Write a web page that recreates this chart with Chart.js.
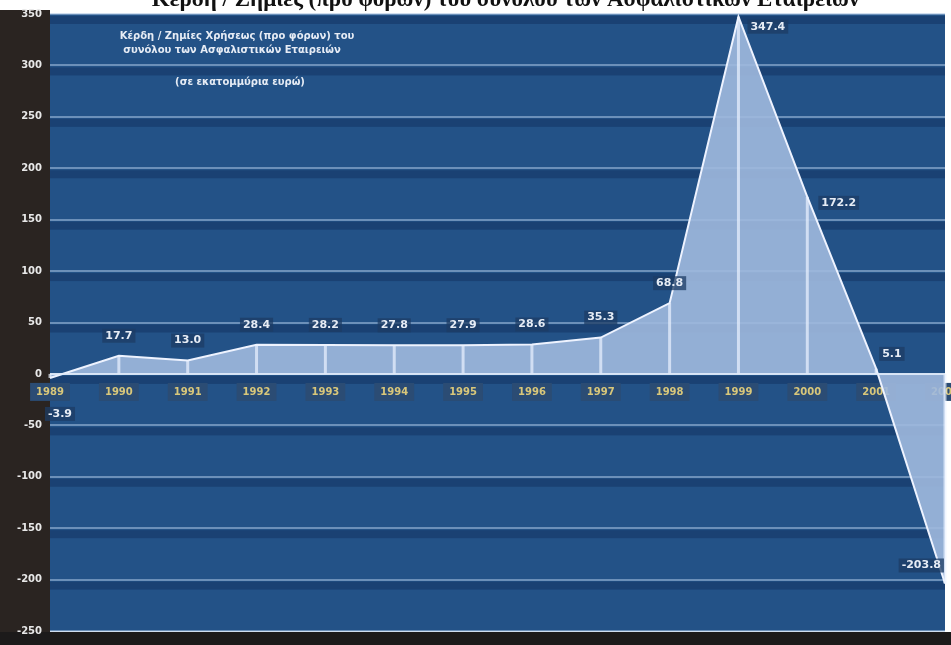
<!DOCTYPE html>
<html>
<head>
<meta charset="utf-8">
<script src="https://cdn.jsdelivr.net/npm/chart.js@4.4.1/dist/chart.umd.min.js"></script>
<style>
  html, body { margin: 0; padding: 0; background: #ffffff; }
  #wrap { width: 951px; height: 645px; position: relative; }
</style>
</head>
<body>
<div id="wrap"><canvas id="profits"></canvas></div>
<script>
// Κέρδη / ζημίες προ φόρων ανά έτος
var years = ['1989', '1990', '1991', '1992', '1993', '1994', '1995', '1996', '1997', '1998', '1999', '2000', '2001', '2002'];
var profits = [-3.9, 17.7, 13.0, 28.4, 28.2, 27.8, 27.9, 28.6, 35.3, 68.8, 347.4, 172.2, 5.1, -203.8];
var yTicks = [-250, -200, -150, -100, -50, 0, 50, 100, 150, 200, 250, 300, 350];

var titleText = 'Κέρδη / Ζημίες (προ φόρων) του συνόλου των Ασφαλιστικών Εταιρειών';
var noteLines = ['Κέρδη / Ζημίες Χρήσεως (προ φόρων) του', 'συνόλου των Ασφαλιστικών Εταιρειών'];
var unitText = '(σε εκατομμύρια ευρώ)';

var backgroundPlugin = {
  id: 'backgroundPlugin',
  beforeDraw: function(chart) {
    var ctx = chart.ctx;
    var area = chart.chartArea;
    ctx.save();
    ctx.fillStyle = '#ffffff';
    ctx.fillRect(0, 0, chart.width, chart.height);
    // dark strip behind the value axis
    ctx.fillStyle = '#2a2421';
    ctx.fillRect(0, area.top - 4, area.left, chart.height - area.top + 4);
    ctx.fillStyle = '#235287';
    ctx.fillRect(area.left, area.top, area.right - area.left, area.bottom - area.top);
    // darker band under each grid line
    ctx.beginPath();
    ctx.rect(area.left, area.top, area.right - area.left, area.bottom - area.top);
    ctx.clip();
    var y = chart.scales.y;
    ctx.fillStyle = 'rgba(15, 45, 90, 0.45)';
    for (var i = 0; i < yTicks.length; i++) {
      var py = y.getPixelForValue(yTicks[i]);
      ctx.fillRect(area.left, py + 2, area.right - area.left, 8);
    }
    ctx.restore();
    ctx.save();
    ctx.fillStyle = '#1c1a1a';
    ctx.fillRect(0, area.bottom + 1, chart.width, chart.height - area.bottom);
    ctx.restore();
  },
  afterDraw: function(chart) {
    var ctx = chart.ctx;
    ctx.save();
    ctx.fillStyle = '#111111';
    ctx.font = 'bold 23px "Liberation Serif"';
    ctx.textAlign = 'center';
    ctx.textBaseline = 'middle';
    ctx.fillText(titleText, chart.width / 2 + 30, 0);
    ctx.restore();
  }
};

var markPlugin = {
  id: 'markPlugin',
  afterDatasetsDraw: function(chart) {
    var ctx = chart.ctx;
    var meta = chart.getDatasetMeta(0);
    var y = chart.scales.y;
    var zero = y.getPixelForValue(0);
    ctx.save();

    // drop lines from the zero line to each point
    ctx.strokeStyle = 'rgba(235, 242, 255, 0.7)';
    ctx.lineWidth = 3;
    meta.data.forEach(function(pt) {
      ctx.beginPath();
      ctx.moveTo(pt.x, zero);
      ctx.lineTo(pt.x, pt.y);
      ctx.stroke();
    });

    // bright zero line
    ctx.strokeStyle = 'rgba(225, 235, 250, 0.9)';
    ctx.lineWidth = 2;
    ctx.beginPath();
    ctx.moveTo(chart.chartArea.left, zero);
    ctx.lineTo(chart.chartArea.right, zero);
    ctx.stroke();

    // value labels
    ctx.font = 'bold 11px "DejaVu Sans"';
    ctx.textBaseline = 'middle';
    meta.data.forEach(function(pt, i) {
      var v = profits[i];
      var txt = v.toFixed(1);
      var tx = pt.x, ty = pt.y - 20;
      ctx.textAlign = 'center';
      if (i === 0) { tx = pt.x + 10; ty = zero + 40; }
      else if (i === 10) { tx = pt.x + 12; ty = pt.y + 10; ctx.textAlign = 'left'; }
      else if (i === 11) { tx = pt.x + 14; ty = pt.y + 6; ctx.textAlign = 'left'; }
      else if (i === 12) { tx = pt.x + 6; ty = zero - 20; ctx.textAlign = 'left'; }
      else if (i === 13) { tx = pt.x - 4; ty = pt.y - 18; ctx.textAlign = 'right'; }
      var w = ctx.measureText(txt).width;
      var bx = ctx.textAlign === 'center' ? tx - w / 2 : (ctx.textAlign === 'left' ? tx : tx - w);
      ctx.fillStyle = 'rgba(30, 60, 100, 0.75)';
      ctx.fillRect(bx - 3, ty - 7, w + 6, 14);
      ctx.fillStyle = '#e6ecf5';
      ctx.fillText(txt, tx, ty);
    });

    // note in the upper left corner
    ctx.fillStyle = '#e6ecf5';
    ctx.font = 'bold 10px "DejaVu Sans"';
    ctx.textAlign = 'center';
    ctx.fillText(noteLines[0], 237, 36);
    ctx.fillText(noteLines[1], 232, 50);
    ctx.fillText(unitText, 240, 82);
    ctx.restore();
  }
};

var ctx = document.getElementById('profits').getContext('2d');
var config = {
  type: 'line',
  data: {
    labels: years,
    datasets: [{
      label: 'Κέρδη / Ζημίες',
      data: profits,
      fill: 'origin',
      backgroundColor: 'rgba(160, 185, 222, 0.9)',
      borderColor: '#eef3ff',
      borderWidth: 2,
      pointRadius: 0,
      tension: 0
    }]
  },
  options: {
    responsive: true,
    maintainAspectRatio: false,
    animation: false,
    layout: { padding: { top: 14, right: 0, bottom: 9, left: 0 } },
    plugins: {
      legend: { display: false },
      title: { display: false },
      tooltip: { enabled: false }
    },
    scales: {
      x: {
        type: 'category',
        offset: false,
        position: { y: 0 },
        afterFit: function(scale) {
          scale.paddingLeft = 3;
          scale.paddingRight = 6;
        },
        grid: { display: false, drawTicks: false },
        border: { display: false },
        ticks: {
          color: '#d9c77a',
          font: { size: 10, weight: 'bold', family: 'DejaVu Sans' },
          padding: 12,
          maxRotation: 0,
          autoSkip: false,
          showLabelBackdrop: true,
          backdropColor: '#2b4c74',
          backdropPadding: { x: 6, y: 3 }
        }
      },
      y: {
        min: -250,
        max: 350,
        afterFit: function(scale) { scale.width = 50; },
        afterBuildTicks: function(scale) {
          scale.ticks = yTicks.map(function(v) { return { value: v }; });
        },
        grid: {
          color: 'rgba(170, 195, 225, 0.55)',
          lineWidth: 2,
          drawTicks: false
        },
        border: { display: false },
        ticks: {
          color: '#e8e8e8',
          font: { size: 10, weight: 'bold', family: 'DejaVu Sans' },
          padding: 8
        }
      }
    }
  },
  plugins: [backgroundPlugin, markPlugin]
};

var myChart = new Chart(ctx, config);
</script>
</body>
</html>
